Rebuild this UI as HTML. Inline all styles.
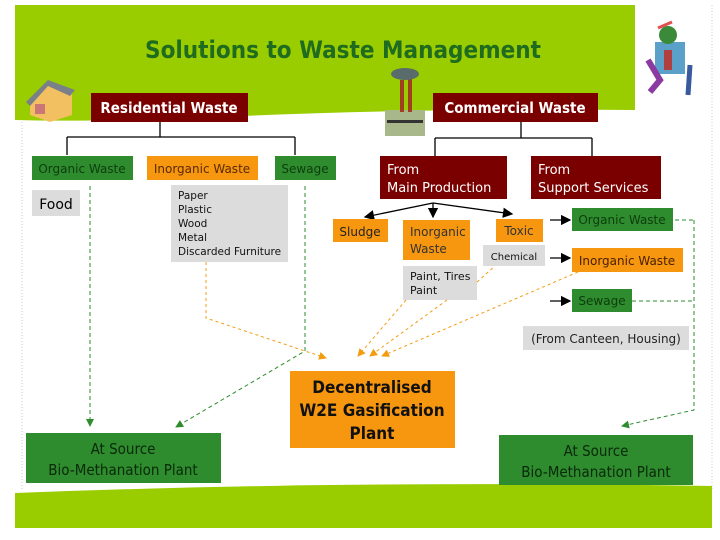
<!DOCTYPE html>
<html><head><style>
body{margin:0;background:#fff;}
svg{display:block;font-family:"DejaVu Sans","Liberation Sans",sans-serif;}
</style></head><body>
<svg width="720" height="540" viewBox="0 0 720 540" xmlns="http://www.w3.org/2000/svg">
<defs>
<marker id="ab" markerWidth="8" markerHeight="8" refX="7" refY="4" orient="auto"><path d="M0,0L8,4L0,8z" fill="#000"/></marker>
<marker id="ag" markerWidth="8" markerHeight="8" refX="7" refY="4" orient="auto"><path d="M0,0L8,4L0,8z" fill="#2e8b2e"/></marker>
<marker id="ao" markerWidth="8" markerHeight="8" refX="7" refY="4" orient="auto"><path d="M0,0L8,4L0,8z" fill="#f39c12"/></marker>
</defs>
<line x1="22" y1="110" x2="22" y2="490" stroke="#ccc" stroke-dasharray="1,2"/>
<line x1="712" y1="5" x2="712" y2="490" stroke="#ccc" stroke-dasharray="1,2"/>
<path d="M15,5H635V110Q400,108 200,118Q80,122 15,120Z" fill="#9acd00"/>
<path d="M15,493Q350,480 712,486V528H15Z" fill="#9acd00"/>
<text x="343" y="58" text-anchor="middle" font-size="24" font-weight="bold" fill="#1f6b1f" font-family="DejaVu Sans Condensed, DejaVu Sans, sans-serif">Solutions to Waste Management</text>
<g><path d="M30,100L48,82L72,92V115L50,122L30,115Z" fill="#f3c061"/><path d="M26,102L48,80L75,90L70,96L48,86L30,106Z" fill="#7a8087"/><rect x="35" y="104" width="10" height="10" fill="#c77"/></g>
<g><rect x="385" y="110" width="40" height="26" fill="#a8b88a"/><rect x="400" y="80" width="4" height="32" fill="#a04020"/><rect x="408" y="78" width="4" height="34" fill="#a04020"/><ellipse cx="405" cy="74" rx="14" ry="6" fill="#5a6b6b"/><rect x="387" y="120" width="36" height="3" fill="#333"/></g>
<g><rect x="655" y="42" width="30" height="32" fill="#5aa0c8"/><circle cx="668" cy="35" r="9" fill="#3a8a3a"/><rect x="664" y="50" width="8" height="20" fill="#b04040"/><path d="M648,60L660,80L650,92" stroke="#8a3aa0" stroke-width="6" fill="none"/><path d="M690,65L688,95" stroke="#3a5aa0" stroke-width="5" fill="none"/><path d="M658,28L672,22" stroke="#e05050" stroke-width="3"/></g>
<g font-family="DejaVu Sans Condensed, DejaVu Sans, sans-serif">
<rect x="91" y="93" width="157" height="29" fill="#7a0000"/><text x="169" y="113" text-anchor="middle" fill="#fff" font-size="15" font-weight="bold">Residential Waste</text>
<rect x="433" y="93" width="165" height="29" fill="#7a0000"/><text x="515" y="113" text-anchor="middle" fill="#fff" font-size="15" font-weight="bold">Commercial Waste</text>
</g>
<g stroke="#000" stroke-width="1.3" fill="none">
<path d="M160,122V137M67,137H295M67,137V155M295,137V155"/>
<path d="M521,122V138M435,138H592M435,138V156M592,138V156"/>
</g>
<rect x="32" y="156" width="101" height="24" fill="#2e8b2e"/><text x="82" y="173" text-anchor="middle" fill="#0d3d0d" font-size="12">Organic Waste</text>
<rect x="147" y="156" width="111" height="24" fill="#f7960f"/><text x="202" y="173" text-anchor="middle" fill="#5a2a00" font-size="12">Inorganic Waste</text>
<rect x="275" y="156" width="61" height="24" fill="#2e8b2e"/><text x="305" y="173" text-anchor="middle" fill="#0d3d0d" font-size="12">Sewage</text>
<rect x="32" y="190" width="48" height="26" fill="#dcdcdc"/><text x="56" y="209" text-anchor="middle" font-size="14">Food</text>
<rect x="171" y="185" width="117" height="77" fill="#dcdcdc"/>
<text font-size="10.5" fill="#111"><tspan x="178" y="199">Paper</tspan><tspan x="178" y="213">Plastic</tspan><tspan x="178" y="227">Wood</tspan><tspan x="178" y="241">Metal</tspan><tspan x="178" y="255">Discarded Furniture</tspan></text>
<rect x="380" y="156" width="127" height="43" fill="#7a0000"/><text fill="#fff" font-size="13"><tspan x="387" y="174">From</tspan><tspan x="387" y="192">Main Production</tspan></text>
<rect x="531" y="156" width="130" height="43" fill="#7a0000"/><text fill="#fff" font-size="13"><tspan x="538" y="174">From</tspan><tspan x="538" y="192">Support Services</tspan></text>
<g stroke="#000" stroke-width="1.3" fill="none">
<path d="M433,203L365,217" marker-end="url(#ab)"/><path d="M433,203V217" marker-end="url(#ab)"/><path d="M433,203L512,214" marker-end="url(#ab)"/>
<path d="M550,220H570" marker-end="url(#ab)"/><path d="M550,258H570" marker-end="url(#ab)"/><path d="M550,301H570" marker-end="url(#ab)"/>
</g>
<rect x="333" y="219" width="55" height="23" fill="#f7960f"/><text x="360" y="236" text-anchor="middle" font-size="12" fill="#222">Sludge</text>
<rect x="403" y="220" width="67" height="40" fill="#f7960f"/><text font-size="12" fill="#333"><tspan x="410" y="236">Inorganic</tspan><tspan x="410" y="253">Waste</tspan></text>
<rect x="496" y="219" width="47" height="23" fill="#f7960f"/><text x="519" y="235" text-anchor="middle" font-size="12" fill="#333">Toxic</text>
<rect x="483" y="245" width="62" height="21" fill="#dcdcdc"/><text x="514" y="260" text-anchor="middle" font-size="10" fill="#111">Chemical</text>
<rect x="403" y="266" width="74" height="34" fill="#dcdcdc"/><text font-size="11" fill="#111"><tspan x="410" y="280">Paint, Tires</tspan><tspan x="410" y="294">Paint</tspan></text>
<rect x="572" y="208" width="101" height="23" fill="#2e8b2e"/><text x="622" y="224" text-anchor="middle" font-size="12" fill="#0d3d0d">Organic Waste</text>
<rect x="572" y="248" width="111" height="24" fill="#f7960f"/><text x="627" y="265" text-anchor="middle" font-size="12" fill="#4a2000">Inorganic Waste</text>
<rect x="572" y="289" width="60" height="23" fill="#2e8b2e"/><text x="602" y="305" text-anchor="middle" font-size="12" fill="#0d3d0d">Sewage</text>
<rect x="523" y="326" width="166" height="24" fill="#dcdcdc"/><text x="606" y="343" text-anchor="middle" font-size="12" fill="#222">(From Canteen, Housing)</text>
<g stroke="#2e8b2e" stroke-width="1" stroke-dasharray="4,3" fill="none">
<path d="M90,186V426" marker-end="url(#ag)"/>
<path d="M305,186V351L176,427" marker-end="url(#ag)"/>
<path d="M675,220H694M632,301H694M694,220V410L622,426" marker-end="url(#ag)"/>
</g>
<g stroke="#f39c12" stroke-width="1" stroke-dasharray="3,3" fill="none">
<path d="M206,262V318L326,358" marker-end="url(#ao)"/>
<path d="M406,300L358,356" marker-end="url(#ao)"/>
<path d="M447,300L370,356" marker-end="url(#ao)"/>
<path d="M477,282L495,266"/>
<path d="M578,272L382,356" marker-end="url(#ao)"/>
</g>
<g font-family="DejaVu Sans Condensed, DejaVu Sans, sans-serif">
<rect x="290" y="371" width="165" height="77" fill="#f7960f"/>
<text text-anchor="middle" font-size="17" font-weight="bold" fill="#111"><tspan x="372" y="393">Decentralised</tspan><tspan x="372" y="416">W2E Gasification</tspan><tspan x="372" y="439">Plant</tspan></text>
<rect x="26" y="433" width="195" height="50" fill="#2e8b2e"/><text text-anchor="middle" font-size="15" fill="#0a2a0a"><tspan x="123" y="454">At Source</tspan><tspan x="123" y="475">Bio-Methanation Plant</tspan></text>
<rect x="499" y="435" width="194" height="50" fill="#2e8b2e"/><text text-anchor="middle" font-size="15" fill="#0a2a0a"><tspan x="596" y="456">At Source</tspan><tspan x="596" y="477">Bio-Methanation Plant</tspan></text>
</g>
</svg>
</body></html>
